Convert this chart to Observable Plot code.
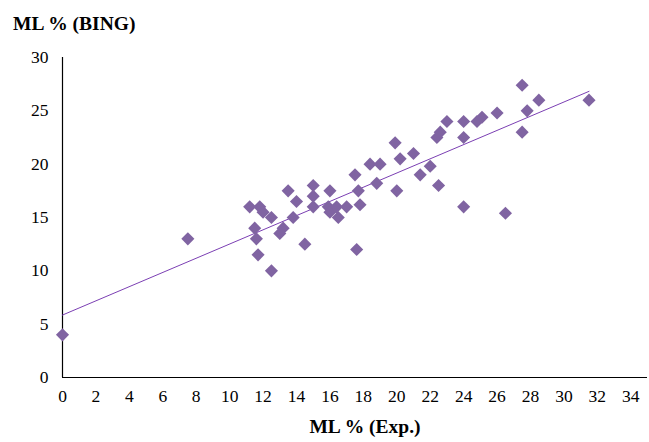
<!DOCTYPE html>
<html>
<head>
<meta charset="utf-8">
<script src="https://cdn.jsdelivr.net/npm/d3@7"></script>
<script src="https://cdn.jsdelivr.net/npm/@observablehq/plot@0.6"></script>
<style>
  html, body { margin: 0; padding: 0; background: #fff; }
  #wrap { position: relative; width: 649px; height: 442px; font-family: "Liberation Serif", "Times New Roman", serif; }
  #ytitle { position: absolute; left: 13px; top: 13px; font-weight: bold; font-size: 19.5px; white-space: nowrap; }
  #xtitle { position: absolute; left: 0; width: 730px; text-align: center; top: 416px; font-weight: bold; font-size: 19.5px; white-space: nowrap; }
  #chart { position: absolute; left: 0; top: 40px; }
</style>
</head>
<body>
<div id="wrap">
  <div id="ytitle">ML % (BING)</div>
  <div id="chart"></div>
  <div id="xtitle">ML % (Exp.)</div>
</div>
<script>
const mlExp = [0, 7.5, 11.2, 11.5, 11.6, 11.7, 11.8, 12, 12.5, 12.5, 13, 13.2, 13.5, 13.8, 14, 14.5,
  15, 15, 15, 16, 15.9, 16, 16.4, 16.5, 17, 17.5, 17.7, 17.8, 17.6, 18.4, 19, 18.8, 19.9, 20.2, 20,
  21, 21.4, 22, 22.5, 22.4, 22.6, 23, 24, 24, 24, 24.8, 25.1, 26, 26.5, 27.5, 27.5, 27.8, 28.5, 31.5];
const mlBing = [4, 13, 16, 14, 13, 11.5, 16, 15.5, 15, 10, 13.5, 14, 17.5, 15, 16.5, 12.5,
  18, 17, 16, 17.5, 16, 15.5, 16, 15, 16, 19, 17.5, 16.2, 12, 20, 20, 18.2, 22, 20.5, 17.5,
  21, 19, 19.8, 18, 22.5, 23, 24, 24, 22.5, 16, 24, 24.4, 24.8, 15.4, 27.4, 23, 25, 26, 26];
const xTicks = [0, 2, 4, 6, 8, 10, 12, 14, 16, 18, 20, 22, 24, 26, 28, 30, 32, 34];
const yTicks = [0, 5, 10, 15, 20, 25, 30];

const data = mlExp.map((x, i) => ({x, y: mlBing[i]}));

const chart = Plot.plot({
  width: 649,
  height: 365,
  marginLeft: 62,
  marginRight: 2,
  marginTop: 17,
  marginBottom: 28,
  style: { fontFamily: "Liberation Serif, Times New Roman, serif", fontSize: "17.5px", color: "#000", background: "#fff" },
  x: { domain: [0, 35], ticks: xTicks, tickSize: 0, tickPadding: 12, label: null },
  y: { domain: [0, 30], ticks: yTicks, tickSize: 0, tickPadding: 14, label: null },
  marks: [
    Plot.ruleX([0], { stroke: "#000", strokeWidth: 1.2 }),
    Plot.ruleY([0], { stroke: "#000", strokeWidth: 1.2 }),
    Plot.linearRegressionY(data, { x: "x", y: "y", ci: 0, stroke: "#7b3fb3", strokeWidth: 1 }),
    Plot.dot(data, { x: "x", y: "y", symbol: "diamond2", r: 5.9, fill: "#8064a2", stroke: "none" })
  ]
});
document.getElementById("chart").appendChild(chart);
</script>
</body>
</html>
